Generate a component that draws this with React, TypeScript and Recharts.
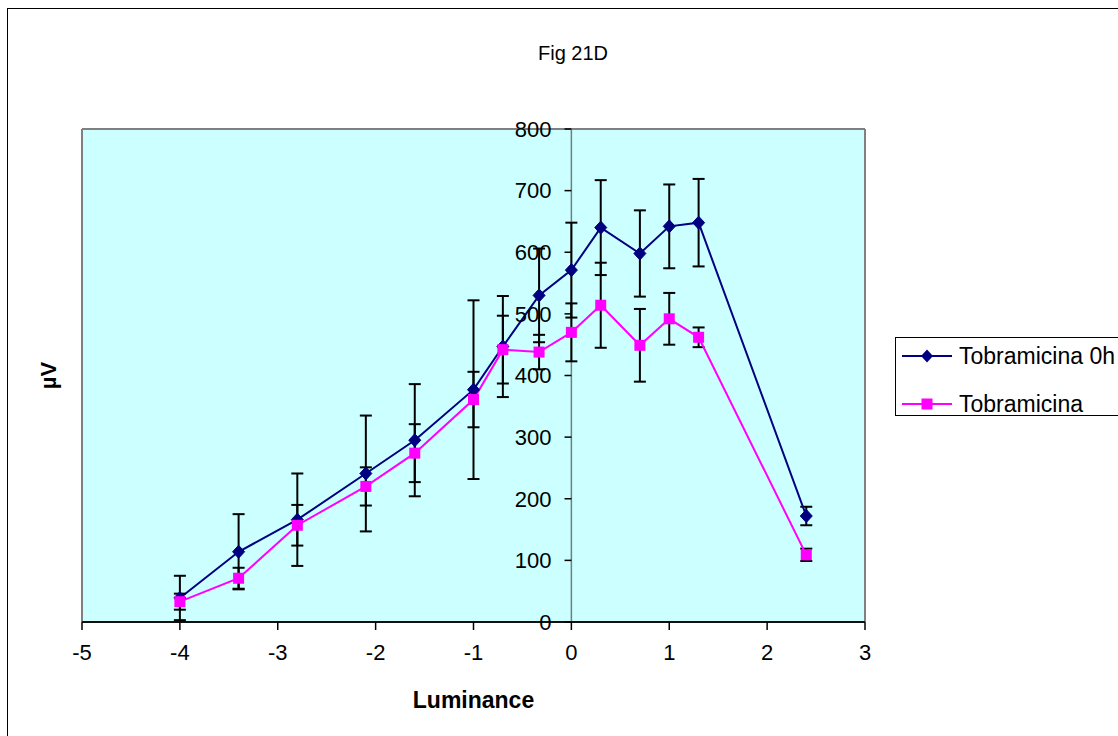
import React from 'react';
import {
  ComposedChart,
  Line,
  XAxis,
  YAxis,
  CartesianGrid,
  ReferenceLine,
  ErrorBar,
  Legend,
} from 'recharts';

const luminance = [-4, -3.4, -2.8, -2.1, -1.6, -1, -0.7, -0.33, 0, 0.3, 0.7, 1, 1.3, 2.4];
const tobra0h = [39, 114, 166, 241, 295, 377, 447, 530, 571, 640, 598, 642, 648, 172];
const tobra0hErr = [36, 61, 75, 94, 91, 145, 82, 76, 77, 77, 70, 68, 71, 15];
const tobra = [33, 71, 157, 220, 274, 361, 442, 438, 470, 514, 449, 492, 462, 109];
const tobraErr = [13, 17, 33, 31, 47, 45, 55, 28, 47, 69, 59, 42, 16, 10];

const xTicks = [-5, -4, -3, -2, -1, 0, 1, 2, 3];
const yTicks = [0, 100, 200, 300, 400, 500, 600, 700, 800];

const seriesNames = ['Tobramicina 0h', 'Tobramicina'];
const NAVY = '#000080';
const MAGENTA = '#FF00FF';
const FONT = '"Liberation Sans", Arial, sans-serif';

const data = luminance.map((x, i) => ({
  x,
  a: tobra0h[i],
  aErr: tobra0hErr[i],
  b: tobra[i],
  bErr: tobraErr[i],
}));

const Diamond = (props: any) => {
  const { cx, cy } = props;
  if (cx == null || cy == null) return null;
  return (
    <polygon
      points={`${cx},${cy - 6.5} ${cx + 6},${cy} ${cx},${cy + 6.5} ${cx - 6},${cy}`}
      fill={NAVY}
      stroke={NAVY}
    />
  );
};

const Square = (props: any) => {
  const { cx, cy } = props;
  if (cx == null || cy == null) return null;
  return <rect x={cx - 5.5} y={cy - 5.5} width={11} height={11} fill={MAGENTA} />;
};

const renderLegend = () => (
  <div
    style={{
      width: 240,
      height: 79,
      boxSizing: 'border-box',
      border: '1px solid #000',
      background: '#fff',
      fontFamily: FONT,
      fontSize: 23,
      color: '#000',
      position: 'relative',
    }}
  >
    {seriesNames.map((name, i) => (
      <div
        key={name}
        style={{
          position: 'absolute',
          left: 6,
          top: i === 0 ? 4 : 52,
          height: 28,
          display: 'flex',
          alignItems: 'center',
          whiteSpace: 'nowrap',
        }}
      >
        <svg width={52} height={14} style={{ marginRight: 5 }}>
          <line x1={0} y1={7} x2={50} y2={7} stroke={i === 0 ? NAVY : MAGENTA} strokeWidth={2} />
          {i === 0 ? (
            <polygon points="25,0.5 31,7 25,13.5 19,7" fill={NAVY} />
          ) : (
            <rect x={19.5} y={1.5} width={11} height={11} fill={MAGENTA} />
          )}
        </svg>
        <span>{name}</span>
      </div>
    ))}
  </div>
);

const YLabel = (props: any) => {
  const vb = props.viewBox || {};
  const cx = vb.x + vb.width / 2;
  const cy = vb.y + vb.height / 2;
  return (
    <text
      x={cx}
      y={cy}
      transform={`rotate(-90, ${cx}, ${cy})`}
      textAnchor="middle"
      dominantBaseline="central"
      fontFamily={FONT}
      fontSize={22}
      fontWeight="bold"
      fill="#000"
    >
      µV
    </text>
  );
};

export default function App() {
  return (
    <>
      <style>{`body{margin:0;overflow:hidden;}`}</style>
      <div
        style={{
          position: 'absolute',
          left: 7,
          top: 8,
          width: 1111,
          height: 728,
          borderLeft: '1px solid #000',
          borderTop: '1px solid #000',
          overflow: 'hidden',
          background: '#fff',
        }}
      >
        <ComposedChart
          width={1111}
          height={727}
          data={data}
          margin={{ top: 120, right: 14, bottom: 14, left: 6 }}
          style={{ fontFamily: FONT }}
        >
          <text
            x={565}
            y={44}
            textAnchor="middle"
            dominantBaseline="central"
            fontFamily={FONT}
            fontSize={20}
            fill="#000"
          >
            Fig 21D
          </text>
          <CartesianGrid
            vertical={false}
            stroke="#000"
            strokeWidth={1.3}
            fill="#CCFFFF"
            fillOpacity={1}
          />
          <XAxis
            type="number"
            dataKey="x"
            domain={[-5, 3]}
            ticks={xTicks}
            allowDataOverflow
            height={100}
            tickSize={8}
            tickMargin={14}
            tick={{ fontSize: 22, fill: '#000', fontFamily: FONT }}
            tickLine={{ stroke: '#000', strokeWidth: 1.5 }}
            axisLine={{ stroke: '#000', strokeWidth: 1.5 }}
            label={{
              value: 'Luminance',
              position: 'insideBottom',
              offset: 14,
              fontSize: 23,
              fontWeight: 'bold',
              fill: '#000',
              fontFamily: FONT,
            }}
          />
          <YAxis
            type="number"
            domain={[0, 800]}
            ticks={yTicks}
            width={68}
            tick={false}
            tickLine={false}
            axisLine={false}
            label={<YLabel />}
          />
          <ReferenceLine x={-5} stroke="#808080" strokeWidth={2} />
          <ReferenceLine x={3} stroke="#808080" strokeWidth={2} />
          <ReferenceLine y={800} stroke="#808080" strokeWidth={2} />
          <ReferenceLine x={0} stroke="#6f7f7f" strokeWidth={1.5} />
          {yTicks.map((v) => (
            <ReferenceLine
              key={v}
              segment={[
                { x: -0.07, y: v },
                { x: 0, y: v },
              ]}
              stroke="#000"
              strokeWidth={1.5}
              label={{
                value: String(v),
                position: 'left',
                offset: 13,
                fontSize: 22,
                fill: '#000',
                fontFamily: FONT,
              }}
            />
          ))}
          <Legend
            layout="vertical"
            align="right"
            verticalAlign="middle"
            wrapperStyle={{ left: 887, top: 328, width: 240 }}
            content={renderLegend}
          />
          <Line
            dataKey="a"
            name={seriesNames[0]}
            stroke={NAVY}
            strokeWidth={2}
            dot={<Diamond />}
            activeDot={false}
            isAnimationActive={false}
          >
            <ErrorBar dataKey="aErr" direction="y" width={6} stroke="#000" strokeWidth={2} />
          </Line>
          <Line
            dataKey="b"
            name={seriesNames[1]}
            stroke={MAGENTA}
            strokeWidth={2}
            dot={<Square />}
            activeDot={false}
            isAnimationActive={false}
          >
            <ErrorBar dataKey="bErr" direction="y" width={6} stroke="#000" strokeWidth={2} />
          </Line>
        </ComposedChart>
      </div>
    </>
  );
}
